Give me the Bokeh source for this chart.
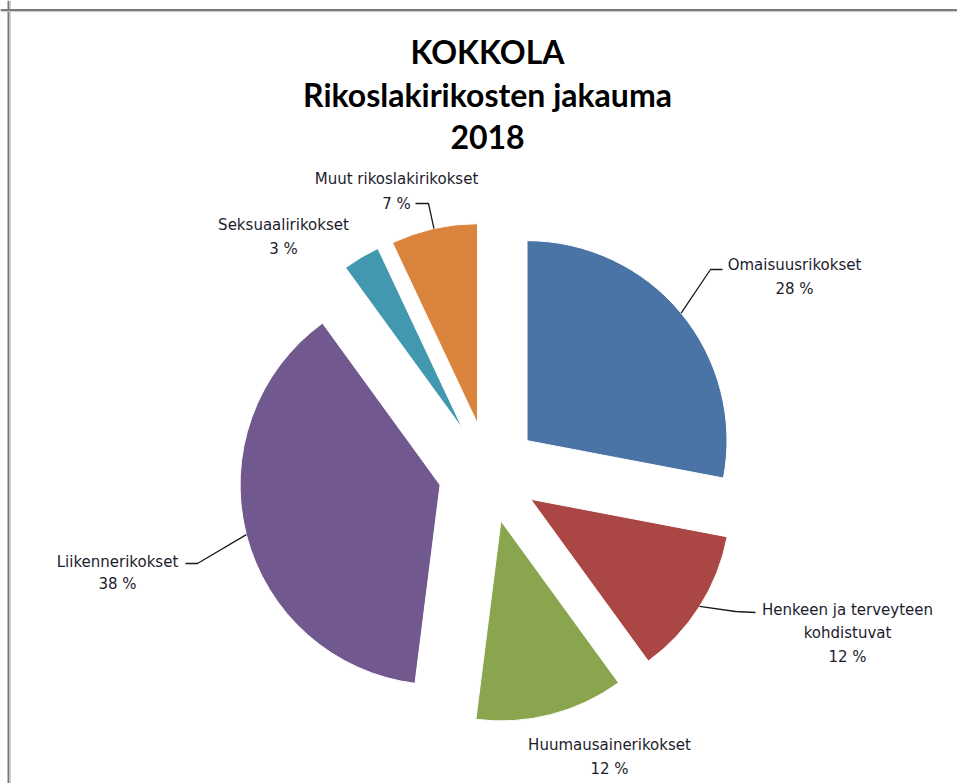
import math
from bokeh.plotting import figure
from bokeh.models import Range1d, Span
from bokeh.core.properties import value
from bokeh.embed import file_html
from bokeh.resources import INLINE

# ---- data ----
categories = ["Omaisuusrikokset", "Henkeen ja terveyteen kohdistuvat", "Huumausainerikokset",
              "Liikennerikokset", "Seksuaalirikokset", "Muut rikoslakirikokset"]
label_lines = [["Omaisuusrikokset"], ["Henkeen ja terveyteen", "kohdistuvat"], ["Huumausainerikokset"],
               ["Liikennerikokset"], ["Seksuaalirikokset"], ["Muut rikoslakirikokset"]]
values = [28, 12, 12, 38, 3, 7]
title_lines = ["KOKKOLA", "Rikoslakirikosten jakauma", "2018"]

# ---- style / layout ----
colors = ["#4A74A5", "#AA4643", "#89A54E", "#71588F", "#4198AF", "#DB843D"]
W, H = 957, 783


def X(px):
    return px


def Y(py):
    return H - py


CX, CY = X(488), Y(472)
R = 200
EXPLODE = 50

# label placement (page pixels): centre x, first baseline y, line step
label_pos = [(794, 264, 24), (847, 609, 23.5), (609, 744, 24),
             (117, 561, 22), (283, 224, 24), (396, 178, 25)]
# leader elbows / ends (page pixels) for labelled slices
leader_pts = {0: [(710, 269), (722, 269)],
              1: [(735, 611), (755, 612)],
              3: [(197, 563), (185, 563)],
              5: [(428, 203), (415, 203)]}

p = figure(width=W, height=H, x_range=Range1d(0, W), y_range=Range1d(0, H),
           output_backend="svg", toolbar_location=None, min_border=0,
           x_axis_location=None, y_axis_location=None)
p.grid.visible = False
p.outline_line_color = None
p.background_fill_color = "white"

# chart frame (left & top edges)
p.add_layout(Span(location=X(8), dimension="height", line_color="#7a7a7a", line_width=2))
p.add_layout(Span(location=X(9.8), dimension="height", line_color="#c8c8c8", line_width=1))
p.add_layout(Span(location=Y(9.5), dimension="width", line_color="#7a7a7a", line_width=2))
p.add_layout(Span(location=Y(11.2), dimension="width", line_color="#c8c8c8", line_width=1))

total = float(sum(values))
xs, ys, starts, ends, mids = [], [], [], [], []
a0 = 0.0
for v in values:
    a1 = a0 + v / total * 2 * math.pi
    mid = (a0 + a1) / 2
    mids.append(mid)
    xs.append(CX + EXPLODE * math.sin(mid))
    ys.append(CY + EXPLODE * math.cos(mid))
    starts.append(math.pi / 2 - a0)
    ends.append(math.pi / 2 - a1)
    a0 = a1

p.wedge(x=xs, y=ys, radius=R, start_angle=starts, end_angle=ends, direction="clock",
        fill_color=colors, line_color="white", line_width=1)

# leader lines
lx, ly = [], []
for i, pts in leader_pts.items():
    ax = xs[i] + R * math.sin(mids[i])
    ay = ys[i] + R * math.cos(mids[i])
    lx.append([ax] + [X(a) for a, b in pts])
    ly.append([ay] + [Y(b) for a, b in pts])
p.multi_line(xs=lx, ys=ly, line_color="#1a1a1a", line_width=1.3)

# data labels
tx, ty, tt = [], [], []
for i, lines in enumerate(label_lines):
    cx, by, step = label_pos[i]
    for k, t in enumerate(lines + [f"{values[i]} %"]):
        tx.append(X(cx))
        ty.append(Y(by + k * step))
        tt.append(t)
p.text(x=tx, y=ty, text=tt, text_align="center", text_baseline="alphabetic",
       text_font=value("DejaVu Sans"), text_font_size="15px", text_color="#1c1c2c")

# title
title_base = [51, 94, 136]
p.text(x=[X(487)] * 3, y=[Y(b) for b in title_base], text=title_lines,
       text_align="center", text_baseline="alphabetic",
       text_font=value("Lato"), text_font_style="bold", text_font_size="32px",
       text_color="black")

open("out.html", "w").write(file_html(p, INLINE))
